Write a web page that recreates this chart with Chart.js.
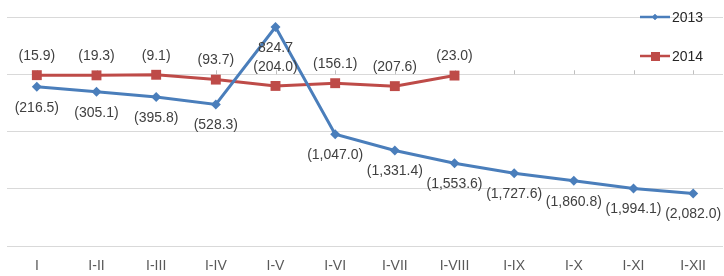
<!DOCTYPE html>
<html>
<head>
<meta charset="utf-8">
<script src="https://cdn.jsdelivr.net/npm/chart.js@4"></script>
<style>
  html, body { margin: 0; padding: 0; background: #fff; overflow: hidden; }
  #wrap { width: 730px; height: 276px; position: relative; }
</style>
</head>
<body>
<div id="wrap"><canvas id="chart"></canvas></div>
<script>
const categories = ['I', 'I-II', 'I-III', 'I-IV', 'I-V', 'I-VI', 'I-VII', 'I-VIII', 'I-IX', 'I-X', 'I-XI', 'I-XII'];
const values2013 = [-216.5, -305.1, -395.8, -528.3, 824.7, -1047.0, -1331.4, -1553.6, -1727.6, -1860.8, -1994.1, -2082.0];
const values2014 = [-15.9, -19.3, -9.1, -93.7, -204.0, -156.1, -207.6, -23.0, null, null, null, null];
const seriesNames = ['2013', '2014'];
const yTicks = [-3000, -2000, -1000, 0, 1000];

const BLUE = '#4A7EBB';
const RED = '#BE4B48';
const FONT = '"Liberation Sans", Arial, sans-serif';

function fmt(v) {
    const s = Math.abs(v).toLocaleString('en-US', { minimumFractionDigits: 1, maximumFractionDigits: 1 });
    return v < 0 ? '(' + s + ')' : s;
}

// value labels: 2013 below the point, 2014 above
const valueLabels = {
    id: 'valueLabels',
    afterDatasetsDraw(chart) {
        const ctx = chart.ctx;
        ctx.save();
        ctx.font = '14px ' + FONT;
        ctx.fillStyle = '#404040';
        ctx.textAlign = 'center';
        ctx.textBaseline = 'middle';
        chart.data.datasets.forEach((ds, di) => {
            const meta = chart.getDatasetMeta(di);
            const dy = di === 0 ? 21 : -19;
            meta.data.forEach((pt, i) => {
                const v = ds.data[i];
                if (v === null) return;
                ctx.fillText(fmt(v), pt.x, pt.y + dy);
            });
        });
        ctx.restore();
    }
};

// little tick marks on the zero line
const zeroTicks = {
    id: 'zeroTicks',
    beforeDatasetsDraw(chart) {
        const { ctx, scales: { x, y } } = chart;
        const y0 = y.getPixelForValue(0);
        ctx.save();
        ctx.strokeStyle = '#BFBFBF';
        ctx.lineWidth = 1;
        categories.forEach((c, i) => {
            const px = Math.round(x.getPixelForValue(i)) + 0.5;
            ctx.beginPath();
            ctx.moveTo(px, y0);
            ctx.lineTo(px, y0 - 4);
            ctx.stroke();
        });
        ctx.restore();
    }
};

// legend in the top right, one entry per row
const sideLegend = {
    id: 'sideLegend',
    afterDraw(chart) {
        const ctx = chart.ctx;
        const rows = [17, 56];
        ctx.save();
        chart.data.datasets.forEach((ds, di) => {
            const y = rows[di];
            ctx.strokeStyle = ds.borderColor;
            ctx.lineWidth = 2.5;
            ctx.beginPath();
            ctx.moveTo(640, y);
            ctx.lineTo(670, y);
            ctx.stroke();
            ctx.fillStyle = ds.backgroundColor;
            if (di === 0) {
                Chart.helpers.drawPoint(ctx, { pointStyle: 'rectRot', radius: 3, borderWidth: 0 }, 655, y);
                ctx.fill();
            } else {
                ctx.fillRect(651, y - 4, 9, 9);
            }
            ctx.fillStyle = '#262626';
            ctx.font = '14px ' + FONT;
            ctx.textAlign = 'left';
            ctx.textBaseline = 'middle';
            ctx.fillText(ds.label, 672, y + 1);
        });
        ctx.restore();
    }
};

new Chart(document.getElementById('chart'), {
    type: 'line',
    data: {
        labels: categories,
        datasets: [
            {
                label: seriesNames[0], data: values2013,
                borderColor: BLUE, backgroundColor: BLUE, borderWidth: 3,
                pointStyle: 'rectRot', pointRadius: 5, pointBorderWidth: 0,
                tension: 0
            },
            {
                label: seriesNames[1], data: values2014,
                borderColor: RED, backgroundColor: RED, borderWidth: 3,
                pointStyle: 'rect', pointRadius: 7, pointBorderWidth: 0,
                tension: 0
            }
        ]
    },
    options: {
        responsive: true, maintainAspectRatio: false,
        animation: false,
        layout: { padding: { top: 17, left: 7, right: 0, bottom: 0 } },
        plugins: { legend: { display: false }, tooltip: { enabled: false } },
        scales: {
            x: {
                offset: true,
                afterFit: (s) => { s.height = 30; },
                grid: { display: false, drawTicks: false },
                border: { display: false },
                ticks: { color: '#595959', font: { family: FONT, size: 14 }, padding: 12, maxRotation: 0, autoSkip: false }
            },
            y: {
                min: yTicks[0], max: yTicks[yTicks.length - 1],
                afterBuildTicks: (s) => { s.ticks = yTicks.map(v => ({ value: v })); },
                afterFit: (s) => { s.width = 0; },
                grid: { color: '#D9D9D9', drawTicks: false, lineWidth: 1 },
                border: { display: false },
                ticks: { display: false }
            }
        }
    },
    plugins: [zeroTicks, valueLabels, sideLegend]
});
</script>
</body>
</html>
